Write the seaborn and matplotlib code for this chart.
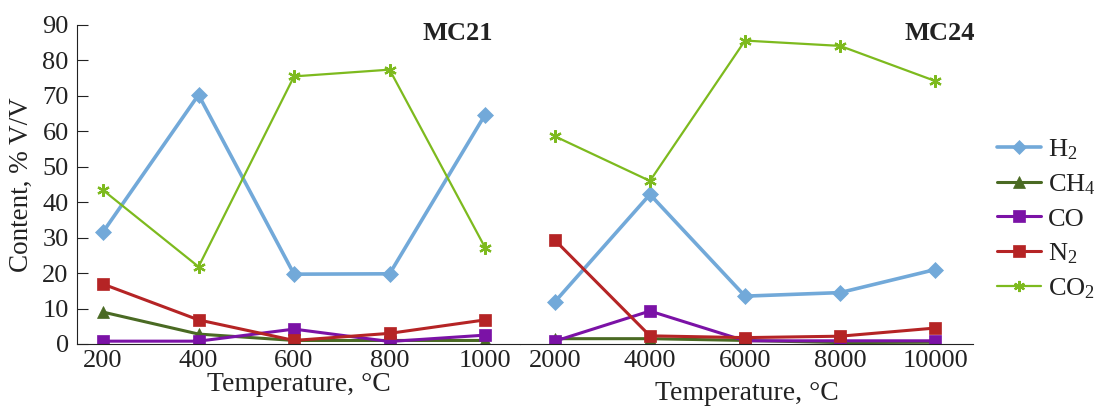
import pandas as pd
import seaborn as sns
import matplotlib.pyplot as plt
from matplotlib.lines import Line2D

# temperature steps for the two samples
temps_mc21 = ['200', '400', '600', '800', '1000']
temps_mc24 = ['2000', '4000', '6000', '8000', '10000']

# gas content, % V/V
h2_mc21 = [31.6, 70.3, 19.7, 19.8, 64.7]
ch4_mc21 = [9.0, 2.8, 1.0, 1.0, 1.0]
co_mc21 = [0.8, 0.8, 4.2, 0.7, 2.5]
n2_mc21 = [16.9, 6.8, 1.0, 3.0, 6.8]
co2_mc21 = [43.4, 21.8, 75.5, 77.4, 27.2]

h2_mc24 = [11.9, 42.2, 13.5, 14.5, 21.0]
ch4_mc24 = [1.5, 1.5, 1.0, 0.4, 0.5]
co_mc24 = [0.8, 9.3, 0.9, 0.9, 0.9]
n2_mc24 = [29.3, 2.3, 1.8, 2.2, 4.5]
co2_mc24 = [58.6, 46.0, 85.6, 84.1, 74.2]

gases = ['H2', 'CH4', 'CO', 'N2', 'CO2']
labels = ['H$_2$', 'CH$_4$', 'CO', 'N$_2$', 'CO$_2$']
colors = {'H2': '#72a9d9', 'CH4': '#4a6a23', 'CO': '#7b12a6', 'N2': '#b52425', 'CO2': '#7dba1e'}
markers = {'H2': 'D', 'CH4': '^', 'CO': 's', 'N2': 's', 'CO2': (6, 2, 0)}
msizes = {'H2': 8, 'CH4': 9, 'CO': 9, 'N2': 9, 'CO2': 9}
widths = {'H2': 2.6, 'CH4': 2.2, 'CO': 2.2, 'N2': 2.2, 'CO2': 1.6}

mc21 = pd.DataFrame({'T': temps_mc21, 'H2': h2_mc21, 'CH4': ch4_mc21,
                     'CO': co_mc21, 'N2': n2_mc21, 'CO2': co2_mc21})
mc24 = pd.DataFrame({'T': temps_mc24, 'H2': h2_mc24, 'CH4': ch4_mc24,
                     'CO': co_mc24, 'N2': n2_mc24, 'CO2': co2_mc24})

sns.set_style('ticks')
plt.rcParams['font.family'] = ['Liberation Serif', 'DejaVu Serif']
plt.rcParams['mathtext.fontset'] = 'custom'
plt.rcParams['mathtext.rm'] = 'Liberation Serif'
plt.rcParams['mathtext.it'] = 'Liberation Serif:italic'

fig = plt.figure(figsize=(10.96, 4.07), dpi=100)
ax1 = fig.add_axes([0.0703, 0.1548, 0.4042, 0.7838])
ax2 = fig.add_axes([0.4745, 0.1548, 0.4135, 0.7838], sharey=ax1)

for ax, df in [(ax1, mc21), (ax2, mc24)]:
    for g in gases:
        sns.lineplot(x='T', y=g, data=df, ax=ax, color=colors[g], marker=markers[g],
                     markersize=msizes[g], linewidth=widths[g], markeredgewidth=1.6 if g == 'CO2' else 0.5,
                     markeredgecolor=colors[g])
    ax.set_ylim(0, 90)
    ax.tick_params(axis='x', length=0, labelsize=19, colors='#222222', pad=4)
    ax.spines['top'].set_visible(False)
    ax.spines['right'].set_visible(False)
    ax.spines['bottom'].set_color('#222222')

ax1.set_xlim(-0.272, 4.366)
ax2.set_xlim(-0.366, 4.4)
ax1.set_yticks(range(0, 91, 10))
ax1.tick_params(axis='y', direction='in', length=8, labelsize=19, colors='#222222', pad=6)
ax1.spines['left'].set_color('#222222')
ax2.spines['left'].set_visible(False)
ax2.tick_params(axis='y', left=False, labelleft=False)

ax1.set_ylabel('Content, % V/V', fontsize=19.5, color='#222222', labelpad=6)
ax2.set_ylabel('')
ax1.set_xlabel('Temperature, °C', fontsize=20, color='#222222', labelpad=0)
ax2.set_xlabel('Temperature, °C', fontsize=20, color='#222222', labelpad=7)

ax1.text(0.86, 0.972, 'MC21', transform=ax1.transAxes, fontsize=19, fontweight='bold',
         ha='center', va='center', color='#222222')
ax2.text(0.925, 0.972, 'MC24', transform=ax2.transAxes, fontsize=19, fontweight='bold',
         ha='center', va='center', color='#222222')

handles = [Line2D([], [], color=colors[g], marker=markers[g], markersize=msizes[g] - 1,
                  linewidth=widths[g], markeredgecolor=colors[g],
                  markeredgewidth=1.6 if g == 'CO2' else 0.5) for g in gases]
fig.legend(handles, labels, loc='center left', bbox_to_anchor=(0.902, 0.462), frameon=False,
           fontsize=19, handlelength=1.7, handletextpad=0.25, labelspacing=0.4,
           borderaxespad=0, borderpad=0.3, labelcolor='#222222')

fig.savefig('out.png', dpi=100)
